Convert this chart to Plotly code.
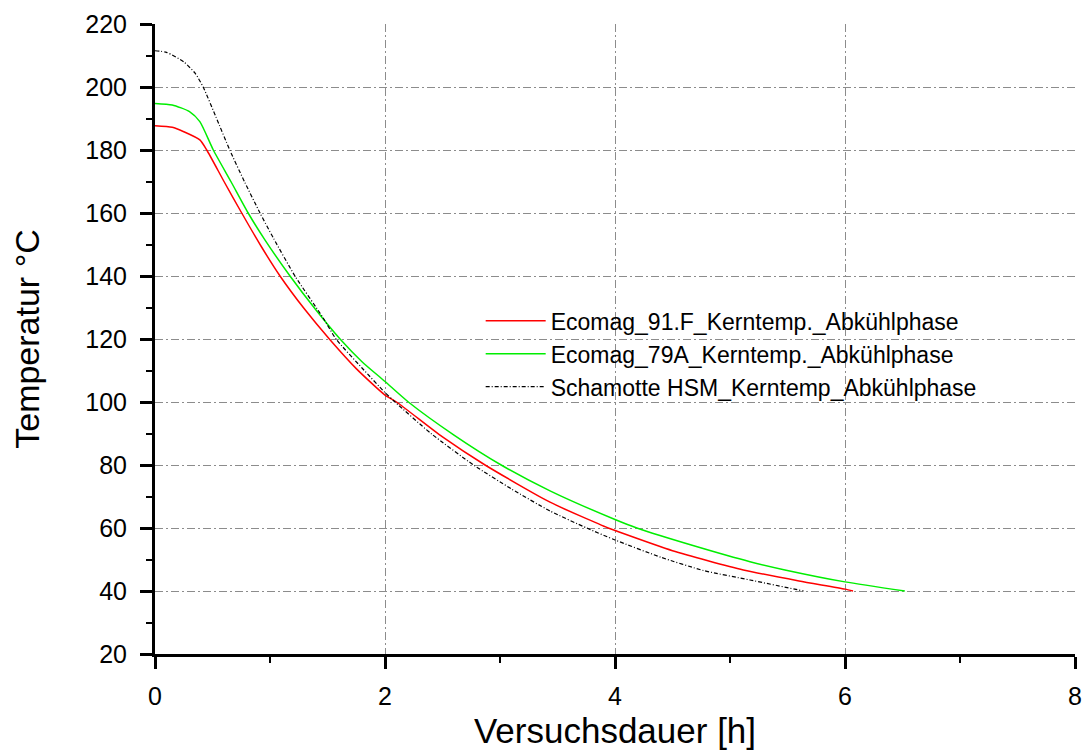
import plotly.graph_objects as go

# Ecomag_91.F
red_x = [0, 0.15, 0.25, 0.39, 0.45, 0.6, 0.754, 0.92, 1.087, 1.3, 1.516, 1.75, 2.0, 2.1, 2.5, 2.87, 3.435, 3.94, 4.0, 4.5, 5.116, 5.6, 6.0, 6.07]
red_y = [187.7, 187.2, 185.8, 183.2, 180.0, 170.0, 160.0, 149.6, 140.0, 129.5, 120.0, 110.6, 102.2, 100.0, 88.9, 80.0, 68.2, 60.0, 59.2, 52.8, 46.7, 43.2, 40.6, 40.0]

# Ecomag_79A
green_x = [0, 0.15, 0.30, 0.39, 0.507, 0.66, 0.81, 0.957, 1.174, 1.4, 1.609, 1.8, 2.0, 2.203, 2.6, 3.01, 3.435, 4.0, 4.19, 4.7, 5.174, 5.478, 6.0, 6.52]
green_y = [194.8, 194.3, 192.2, 189.0, 180.0, 170.0, 160.0, 151.4, 140.0, 129.2, 120.0, 112.8, 106.5, 100.0, 89.5, 80.0, 71.8, 62.7, 60.0, 54.2, 49.3, 46.7, 42.9, 40.0]

# Schamotte HSM
black_x = [0, 0.1, 0.25, 0.35, 0.42, 0.53, 0.65, 0.78, 0.913, 1.03, 1.217, 1.464, 1.574, 1.8, 2.0, 2.087, 2.4, 2.77, 3.1, 3.435, 3.754, 4.0, 4.4, 4.77, 5.174, 5.64]
black_y = [211.5, 211.0, 208.0, 204.3, 199.9, 190.5, 180.0, 169.8, 160.0, 152.0, 140.0, 126.6, 120.0, 110.8, 103.0, 100.0, 90.0, 80.0, 72.4, 65.4, 60.0, 56.2, 50.7, 46.5, 43.5, 40.0]

names = ["Ecomag_91.F_Kerntemp._Abkühlphase",
         "Ecomag_79A_Kerntemp._Abkühlphase",
         "Schamotte HSM_Kerntemp_Abkühlphase"]

x_ticks = [0, 2, 4, 6, 8]
y_ticks = [20, 40, 60, 80, 100, 120, 140, 160, 180, 200, 220]
x_minor = [1, 3, 5, 7]
y_minor = [30, 50, 70, 90, 110, 130, 150, 170, 190, 210]
x_grid = [2, 4, 6]
y_grid = [40, 60, 80, 100, 120, 140, 160, 180, 200]

FONT = "Liberation Sans, Arial, sans-serif"

fig = go.Figure()
fig.add_trace(go.Scatter(x=red_x, y=red_y, mode="lines", name=names[0],
                         line=dict(color="#ff0000", width=1.5, shape="spline", smoothing=0.6)))
fig.add_trace(go.Scatter(x=green_x, y=green_y, mode="lines", name=names[1],
                         line=dict(color="#00ee00", width=1.5, shape="spline", smoothing=0.6)))
fig.add_trace(go.Scatter(x=black_x, y=black_y, mode="lines", name=names[2],
                         xaxis="x2", yaxis="y2",
                         line=dict(color="#000000", width=1.2, dash="4px,2px,1px,2px",
                                   shape="spline", smoothing=0.6)))

axis_common = dict(showline=True, linecolor="black", linewidth=3,
                   ticks="outside", tickwidth=3, tickcolor="black", ticklen=12,
                   showgrid=False, zeroline=False, mirror=False, automargin=False,
                   tickfont=dict(family=FONT, size=25, color="black"))

grid_common = dict(showgrid=True, gridcolor="#8c8c8c", gridwidth=1,
                   griddash="8px,3px,2px,3px", showticklabels=False, ticks="",
                   showline=False, zeroline=False, automargin=False)

fig.update_layout(
    width=1084, height=756,
    margin=dict(l=155, r=9, t=24, b=102),
    paper_bgcolor="white", plot_bgcolor="white",
    font=dict(family=FONT, color="black"),
    showlegend=True,
    legend=dict(x=0.354, y=0.563, xanchor="left", yanchor="top",
                bgcolor="rgba(0,0,0,0)", borderwidth=0,
                font=dict(family=FONT, size=23, color="black"),
                itemwidth=60, tracegroupgap=0),
    xaxis=dict(range=[0, 8], tickvals=x_ticks, ticktext=[str(v) for v in x_ticks],
               minor=dict(ticks="outside", ticklen=6, tickwidth=2, tickcolor="black",
                          tickvals=x_minor, showgrid=False),
               title=dict(text="Versuchsdauer [h]", font=dict(family=FONT, size=35), standoff=10),
               ticklabelstandoff=6,
               **axis_common),
    yaxis=dict(range=[20, 220], tickvals=y_ticks, ticktext=[str(v) for v in y_ticks],
               minor=dict(ticks="outside", ticklen=6, tickwidth=2, tickcolor="black",
                          tickvals=y_minor, showgrid=False),
               title=dict(text="Temperatur °C", font=dict(family=FONT, size=34), standoff=36),
               ticklabelstandoff=8,
               **axis_common),
    xaxis2=dict(overlaying="x", matches="x", range=[0, 8], tickvals=x_grid, **grid_common),
    yaxis2=dict(overlaying="y", matches="y", range=[20, 220], tickvals=y_grid, **grid_common),
)

fig.write_html("out.html")
